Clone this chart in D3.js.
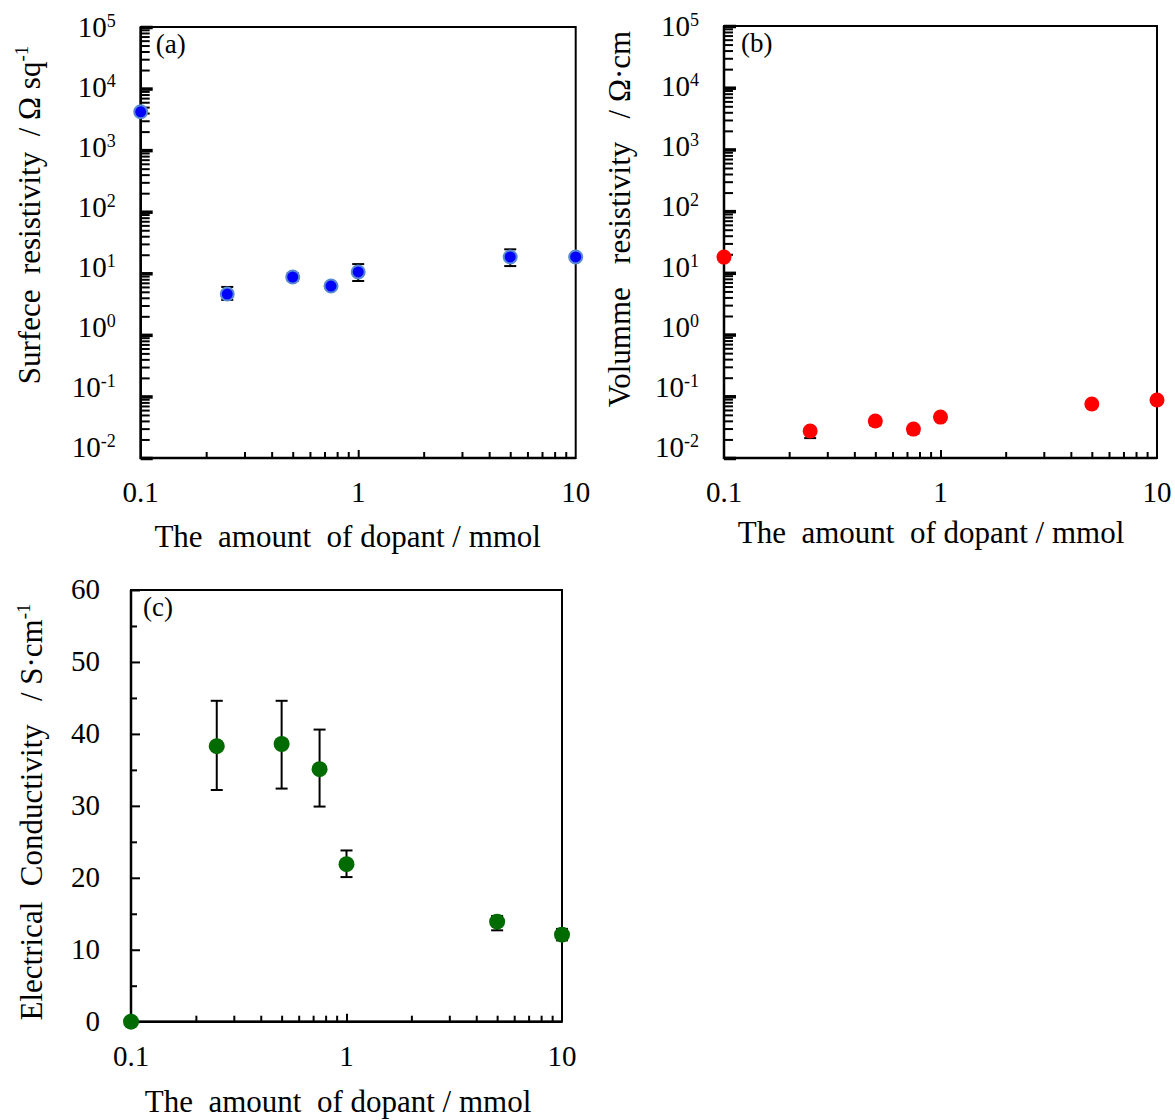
<!DOCTYPE html>
<html>
<head>
<meta charset="utf-8">
<script src="https://cdn.jsdelivr.net/npm/d3@7"></script>
<style>
  body { margin: 0; background: #fff; }
  svg { display: block; }
  text { font-family: "Liberation Serif", "Times New Roman", serif; fill: #000; white-space: pre; }
</style>
</head>
<body>
<svg id="chart" width="1175" height="1120"></svg>
<script>
// values
var dopant = [0.1, 0.25, 0.5, 0.75, 1, 5, 10];  // mmol

// (a) surface resistivity, ohm/sq, with error bar ends
var surface_res     = [4200, 4.6, 8.7, 6.2, 10.5, 18.4, 18.4];
var surface_res_top = [4200, 6.0, 10.0, 6.6, 14.1, 24.5, 18.4];
var surface_res_bot = [4200, 3.7, 7.6, 5.8, 7.5, 13.1, 18.4];

// (b) volume resistivity, ohm cm
var volume_res     = [18, 0.0274, 0.0397, 0.0294, 0.046, 0.075, 0.087];
var volume_res_top = [18, 0.030, 0.041, 0.031, 0.047, 0.076, 0.088];
var volume_res_bot = [18, 0.021, 0.034, 0.025, 0.045, 0.074, 0.086];

// (c) electrical conductivity, S/cm
var conductivity     = [0, 38.3, 38.6, 35.1, 21.9, 13.9, 12.1];
var conductivity_top = [0, 44.6, 44.6, 40.6, 23.8, 14.7, 12.9];
var conductivity_bot = [0, 32.2, 32.4, 29.9, 20.1, 12.7, 11.3];

// ticks
var x_ticks        = [0.1, 1, 10];
var x_tick_labels  = ["0.1", "1", "10"];
var log_ticks      = [1e-2, 1e-1, 1e0, 1e1, 1e2, 1e3, 1e4, 1e5];
var log_exponents  = ["-2", "-1", "0", "1", "2", "3", "4", "5"];
var cond_ticks     = [0, 10, 20, 30, 40, 50, 60];
var cond_minor     = [5, 15, 25, 35, 45, 55];

var svg = d3.select("#chart");

function panel(p) {
    var x = d3.scaleLog().domain([0.1, 10]).range([p.left, p.right]);
    var y = p.log
        ? d3.scaleLog().domain([1e-2, 1e5]).range([p.bottom, p.top])
        : d3.scaleLinear().domain([0, 60]).range([p.bottom, p.top]);

    var g = svg.append("g");

    // x ticks (inside the box)
    var x_minor = [];
    [0.1, 1].forEach(function (d) { for (var k = 2; k < 10; k++) x_minor.push(d * k); });
    g.append("g")
        .attr("transform", "translate(0," + p.bottom + ")")
        .call(d3.axisBottom(x).tickValues(x_minor).tickSize(-6).tickFormat(""))
        .call(function (a) { a.select(".domain").remove(); a.selectAll("line").attr("stroke-width", 2); });
    g.append("g")
        .attr("transform", "translate(0," + p.bottom + ")")
        .call(d3.axisBottom(x).tickValues([1]).tickSize(-8).tickFormat(""))
        .call(function (a) { a.select(".domain").remove(); a.selectAll("line").attr("stroke-width", 2); });

    g.selectAll(".xlab").data(x_ticks).enter().append("text")
        .attr("x", function (d) { return x(d); })
        .attr("y", p.bottom + 44)
        .attr("text-anchor", "middle")
        .attr("font-size", 29)
        .text(function (d, i) { return x_tick_labels[i]; });

    // y ticks
    if (p.log) {
        var y_minor = [];
        log_ticks.slice(0, -1).forEach(function (d) { for (var k = 2; k < 10; k++) y_minor.push(d * k); });
        g.append("g")
            .attr("transform", "translate(" + p.left + ",0)")
            .call(d3.axisLeft(y).tickValues(y_minor).tickSize(-9).tickFormat(""))
            .call(function (a) { a.select(".domain").remove(); a.selectAll("line").attr("stroke-width", 2); });
        g.append("g")
            .attr("transform", "translate(" + p.left + ",0)")
            .call(d3.axisLeft(y).tickValues(log_ticks).tickSize(-12).tickFormat(""))
            .call(function (a) { a.select(".domain").remove(); a.selectAll("line").attr("stroke-width", 3.5); });

        var lab = g.selectAll(".ylab").data(log_ticks).enter().append("text")
            .attr("x", p.left - 25)
            .attr("y", function (d, i) { return y(d) - 1 + 11 * i / 7; })
            .attr("text-anchor", "end")
            .attr("font-size", 29);
        lab.append("tspan").text("10");
        lab.append("tspan").attr("font-size", 18).attr("dy", -10)
            .text(function (d, i) { return log_exponents[i]; });
    } else {
        g.append("g")
            .attr("transform", "translate(" + p.left + ",0)")
            .call(d3.axisLeft(y).tickValues(cond_minor).tickSize(-6).tickFormat(""))
            .call(function (a) { a.select(".domain").remove(); a.selectAll("line").attr("stroke-width", 2); });
        g.append("g")
            .attr("transform", "translate(" + p.left + ",0)")
            .call(d3.axisLeft(y).tickValues(cond_ticks).tickSize(-9).tickFormat(""))
            .call(function (a) { a.select(".domain").remove(); a.selectAll("line").attr("stroke-width", 2); });

        g.selectAll(".ylab").data(cond_ticks).enter().append("text")
            .attr("x", p.left - 31)
            .attr("y", function (d) { return y(d) + 9; })
            .attr("text-anchor", "end")
            .attr("font-size", 29)
            .text(function (d) { return d; });
    }

    // box
    g.append("rect")
        .attr("x", p.left).attr("y", p.top)
        .attr("width", p.right - p.left).attr("height", p.bottom - p.top)
        .attr("fill", "none").attr("stroke", "#000").attr("stroke-width", 2);
    g.append("path")
        .attr("d", "M" + p.left + "," + p.top + "V" + p.bottom + "H" + p.right)
        .attr("fill", "none").attr("stroke", "#000").attr("stroke-width", 2.5);

    // panel letter
    g.append("text")
        .attr("x", p.left + p.letter_dx).attr("y", p.top + 26)
        .attr("font-size", 27)
        .text(p.letter);

    // axis titles
    g.append("text")
        .attr("x", p.left + 207).attr("y", p.bottom + p.xtitle_dy)
        .attr("text-anchor", "middle")
        .attr("font-size", 31)
        .text("The  amount  of dopant / mmol");

    var yt = g.append("text")
        .attr("transform", "translate(" + p.ytitle_x + "," + p.ytitle_y + ") rotate(-90)")
        .attr("text-anchor", "middle")
        .attr("font-size", 31);
    yt.append("tspan").text(p.ytitle);
    if (p.ytitle_sup) yt.append("tspan").attr("font-size", 19).attr("dy", -12).text(p.ytitle_sup);

    // error bars
    var idx = d3.range(dopant.length).filter(function (i) { return p.top_vals[i] !== p.bot_vals[i]; });
    var eb = g.selectAll(".err").data(idx).enter().append("g")
        .attr("stroke", "#000").attr("stroke-width", 2);
    eb.append("line")
        .attr("x1", function (i) { return x(dopant[i]); })
        .attr("x2", function (i) { return x(dopant[i]); })
        .attr("y1", function (i) { return y(p.top_vals[i]); })
        .attr("y2", function (i) { return y(p.bot_vals[i]); });
    eb.append("line")
        .attr("x1", function (i) { return x(dopant[i]) - 6; })
        .attr("x2", function (i) { return x(dopant[i]) + 6; })
        .attr("y1", function (i) { return y(p.top_vals[i]); })
        .attr("y2", function (i) { return y(p.top_vals[i]); });
    eb.append("line")
        .attr("x1", function (i) { return x(dopant[i]) - 6; })
        .attr("x2", function (i) { return x(dopant[i]) + 6; })
        .attr("y1", function (i) { return y(p.bot_vals[i]); })
        .attr("y2", function (i) { return y(p.bot_vals[i]); });

    // markers
    g.selectAll(".pt").data(p.vals).enter().append("circle")
        .attr("cx", function (d, i) { return x(dopant[i]); })
        .attr("cy", function (d) { return y(d); })
        .attr("r", p.r)
        .attr("fill", p.fill)
        .attr("stroke", p.stroke || "none")
        .attr("stroke-width", 2);
}

panel({
    left: 140.7, right: 575.7, top: 27, bottom: 458, log: true,
    vals: surface_res, top_vals: surface_res_top, bot_vals: surface_res_bot,
    fill: "#0000ff", stroke: "#5a8ad0", r: 6.5,
    letter: "(a)", letter_dx: 15, xtitle_dy: 89,
    ytitle: "Surfece  resistivity  / \u03a9 sq", ytitle_sup: "-1",
    ytitle_x: 40, ytitle_y: 215
});

panel({
    left: 724, right: 1157, top: 26, bottom: 458, log: true,
    vals: volume_res, top_vals: volume_res_top, bot_vals: volume_res_bot,
    fill: "#ff0000", r: 7.5,
    letter: "(b)", letter_dx: 17, xtitle_dy: 85,
    ytitle: "Volumme   resistivity   / \u03a9\u00b7cm",
    ytitle_x: 630, ytitle_y: 219
});

panel({
    left: 131, right: 562, top: 590, bottom: 1021.7, log: false,
    vals: conductivity, top_vals: conductivity_top, bot_vals: conductivity_bot,
    fill: "#006b00", r: 8,
    letter: "(c)", letter_dx: 12, xtitle_dy: 90,
    ytitle: "Electrical  Conductivity   / S\u00b7cm", ytitle_sup: "-1",
    ytitle_x: 42, ytitle_y: 812
});
</script>
</body>
</html>
